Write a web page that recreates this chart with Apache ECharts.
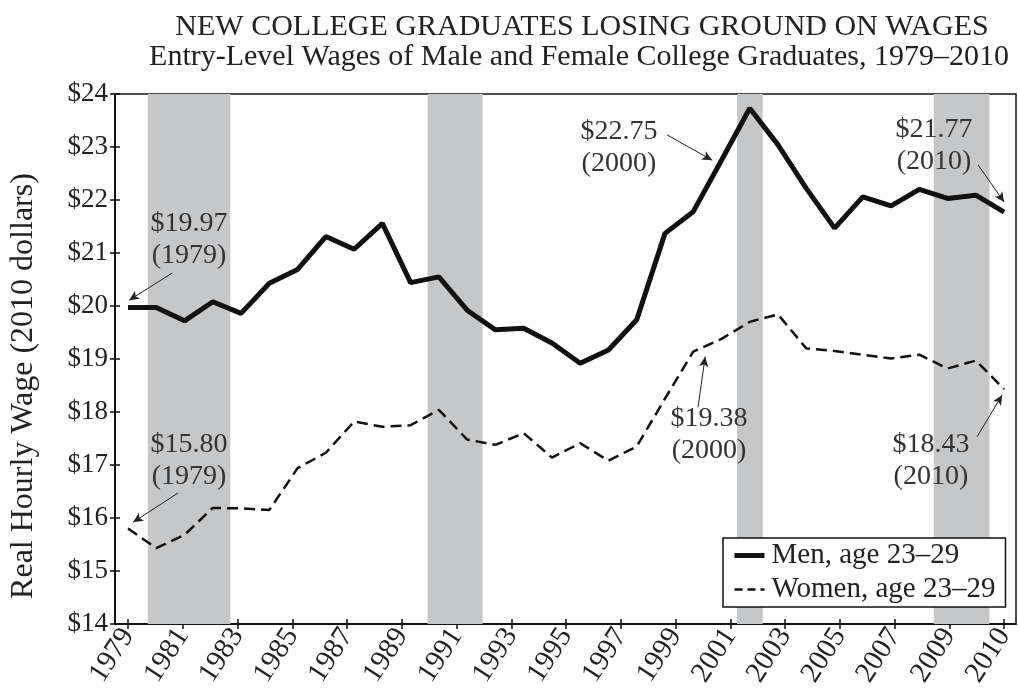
<!DOCTYPE html>
<html>
<head>
<meta charset="utf-8">
<script src="https://cdn.jsdelivr.net/npm/echarts@6/dist/echarts.min.js"></script>
<style>html,body{margin:0;padding:0;background:#fff;}#c{width:1018px;height:690px;}</style>
</head>
<body>
<div id="c"></div>
<script>
const years = [1979,1980,1981,1982,1983,1984,1985,1986,1987,1988,1989,1990,1991,1992,1993,1994,1995,1996,1997,1998,1999,2000,2001,2002,2003,2004,2005,2006,2007,2008,2009,2010];
const men = [19.97,19.97,19.72,20.08,19.86,20.43,20.69,21.31,21.07,21.56,20.44,20.55,19.92,19.55,19.58,19.30,18.92,19.17,19.74,21.37,21.78,22.75,23.73,23.04,22.22,21.47,22.06,21.89,22.20,22.03,22.09,21.77];
const women = [15.80,15.43,15.68,16.19,16.18,16.15,16.94,17.23,17.82,17.72,17.75,18.04,17.48,17.38,17.60,17.14,17.41,17.08,17.35,18.25,19.14,19.38,19.70,19.84,19.20,19.15,19.08,19.01,19.08,18.82,18.97,18.43];
const tickLabels = ['1979','1981','1983','1985','1987','1989','1991','1993','1995','1997','1999','2001','2003','2005','2007','2009','2010'];
// recession bands in year-index units [start, end]
const recessions = [[0.70,3.62],[10.6,12.55],[21.55,22.46],[28.51,30.48]];
// annotations: text, text centre [idx,val], arrow start, arrow end
const notes = [
  {t:'$19.97\n(1979)', at:[2.16,21.26], from:[1.56,20.62], to:[0.04,20.11]},
  {t:'$15.80\n(1979)', at:[2.16,17.09], from:[1.77,16.47], to:[0.18,15.92]},
  {t:'$22.75\n(2000)', at:[17.37,22.98], from:[19.07,23.23], to:[20.67,22.75]},
  {t:'$21.77\n(2010)', at:[28.52,23.02], from:[30.08,22.66], to:[31.0,21.96]},
  {t:'$19.38\n(2000)', at:[20.56,17.57], from:[20.17,18.09], to:[20.42,19.04]},
  {t:'$18.43\n(2010)', at:[28.41,17.09], from:[30.04,17.53], to:[30.93,18.32]}
];

const serif = 'Liberation Serif';
const txt = '#222';
const nTicks = tickLabels.length - 1;
const span = years.length - 1;
const xTickVals = tickLabels.map((_, k) => k * span / nTicks);

const chart = echarts.init(document.getElementById('c'));
const xBase = {type:'value', min:-0.46, max:31.42};
const yBase = {type:'value', min:14, max:24, interval:1};
chart.setOption({
  animation:false,
  backgroundColor:'#fff',
  textStyle:{fontFamily:serif},
  title:[
    {text:'NEW COLLEGE GRADUATES LOSING GROUND ON WAGES', left:577, top:7, textAlign:'center',
     textStyle:{fontFamily:serif, fontSize:30, fontWeight:'normal', color:txt}},
    {text:'Entry-Level Wages of Male and Female College Graduates, 1979–2010', left:574, top:37, textAlign:'center',
     textStyle:{fontFamily:serif, fontSize:30, fontWeight:'normal', color:txt}}
  ],
  grid:{left:115, right:2, top:94, bottom:66, show:true, borderColor:'#111', borderWidth:1.5, backgroundColor:'transparent'},
  legend:{
    orient:'vertical', left:723, top:538, itemWidth:30, itemHeight:14, itemGap:5,
    borderColor:'#111', borderWidth:1.5, padding:[3,10,3,9], backgroundColor:'#fff',
    itemStyle:{opacity:0},
    textStyle:{fontFamily:serif, fontSize:29, color:txt, padding:[0,0,0,2]},
    data:[
      {name:'Men, age 23–29', lineStyle:{width:5, color:'#111'}},
      {name:'Women, age 23–29', lineStyle:{width:2.5, color:'#111', type:[8,5]}}
    ]
  },
  xAxis:[
    Object.assign({}, xBase, {
      axisLine:{show:true, onZero:false, lineStyle:{color:'#111', width:2}},
      axisTick:{show:true, length:5, customValues:xTickVals, lineStyle:{color:'#111', width:1.5}},
      axisLabel:{show:true, customValues:xTickVals, rotate:57, margin:7, fontFamily:serif, fontSize:29, color:txt,
        formatter:(v)=>tickLabels[Math.round(v*nTicks/span)]},
      splitLine:{show:false}
    }),
    Object.assign({}, xBase, {position:'bottom',
      axisLine:{show:false, onZero:false}, axisLabel:{show:false}, splitLine:{show:false},
      axisTick:{show:true, inside:true, length:5, customValues:xTickVals, lineStyle:{color:'#111', width:1.5}}
    })
  ],
  yAxis:[
    Object.assign({}, yBase, {
      axisLine:{show:true, onZero:false, lineStyle:{color:'#111', width:2}},
      axisTick:{show:true, length:5, lineStyle:{color:'#111', width:1.5}},
      axisLabel:{show:true, margin:7, fontFamily:serif, fontSize:27, color:txt, formatter:(v)=>'$'+v},
      splitLine:{show:false}
    }),
    Object.assign({}, yBase, {position:'left',
      axisLine:{show:false, onZero:false}, axisLabel:{show:false}, splitLine:{show:false},
      axisTick:{show:true, inside:true, length:5, lineStyle:{color:'#111', width:1.5}}
    })
  ],
  graphic:[
    {type:'text', x:24, y:386, rotation:Math.PI/2,
     style:{text:'Real Hourly Wage (2010 dollars)', fontFamily:serif, fontSize:32, fill:txt, align:'center', verticalAlign:'middle'}}
  ],
  series:[
    {
      name:'Men, age 23–29', type:'line', symbol:'none', z:5,
      data:men.map((v,i)=>[i,v]),
      lineStyle:{color:'#111', width:5}, itemStyle:{color:'#111'},
      markArea:{silent:true, itemStyle:{color:'#c6c7c9', opacity:1},
        data:recessions.map(r=>[{xAxis:r[0]},{xAxis:r[1]}])},
      markLine:{silent:true, symbol:['none','arrow'], symbolSize:[7,10], animation:false,
        lineStyle:{color:'#222', width:1, type:'solid'}, label:{show:false},
        data:notes.map(n=>[{coord:n.from},{coord:n.to}])},
      markPoint:{silent:true, symbol:'circle', symbolSize:0,
        label:{show:true, position:'inside', fontFamily:serif, fontSize:28, lineHeight:32, color:'#333', align:'center', verticalAlign:'middle'},
        data:notes.map(n=>({coord:n.at, value:n.t, label:{formatter:n.t}}))}
    },
    {
      name:'Women, age 23–29', type:'line', symbol:'none', z:5,
      data:women.map((v,i)=>[i,v]),
      lineStyle:{color:'#111', width:2.5, type:[11,6]}, itemStyle:{color:'#111'}
    }
  ]
});
</script>
</body>
</html>
